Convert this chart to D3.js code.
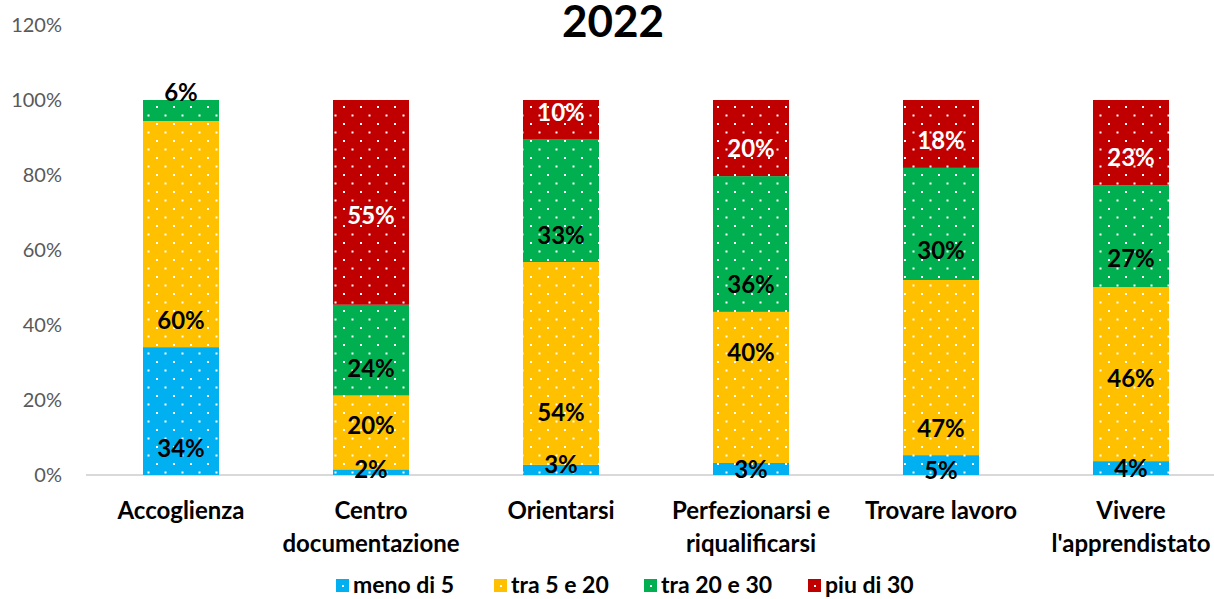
<!DOCTYPE html>
<html>
<head>
<meta charset="utf-8">
<script src="https://cdn.jsdelivr.net/npm/d3@7"></script>
<style>
  body { margin: 0; background: #fff; }
  svg { display: block; font-family: Lato, "Open Sans", sans-serif; }
</style>
</head>
<body>
<div id="grafica"></div>
<script>
// dati del grafico
const categorie = ["Accoglienza", "Centro documentazione", "Orientarsi",
  "Perfezionarsi e riqualificarsi", "Trovare lavoro", "Vivere l'apprendistato"];
const etichetteCategorie = [["Accoglienza"], ["Centro", "documentazione"], ["Orientarsi"],
  ["Perfezionarsi e", "riqualificarsi"], ["Trovare lavoro"], ["Vivere", "l'apprendistato"]];
const serie = ["meno di 5", "tra 5 e 20", "tra 20 e 30", "piu di 30"];
const menoDi5 = [0.341, 0.015, 0.027, 0.032, 0.053, 0.037];
const tra5e20 = [0.603, 0.197, 0.541, 0.403, 0.467, 0.464];
const tra20e30 = [0.056, 0.242, 0.328, 0.362, 0.299, 0.272];
const piuDi30 = [0.0, 0.546, 0.104, 0.203, 0.181, 0.227];
// altezza (in valore) a cui Excel ha posto ogni etichetta, per serie
const posEtichette = [
  [0.072, 0.016, 0.029, 0.016, 0.013, 0.019],
  [0.413, 0.133, 0.168, 0.328, 0.125, 0.259],
  [1.021, 0.285, 0.640, 0.509, 0.600, 0.579],
  [null, 0.693, 0.968, 0.872, 0.893, 0.848]
];
const tickY = [0, 0.2, 0.4, 0.6, 0.8, 1.0, 1.2];
const titolo = "2022";

// parametri grafica
const W = 1214, H = 599;
const colori = ["#00B0F0", "#FFC000", "#00B050", "#C00000"];
const coloriTesto = ["#000", "#000", "#000", "#fff"];
const valoriSerie = [menoDi5, tra5e20, tra20e30, piuDi30];

const svg = d3.select("#grafica").append("svg")
  .attr("width", W)
  .attr("height", H);

// pattern a puntini per ogni colore
const defs = svg.append("defs");
colori.forEach((c, i) => {
  const p = defs.append("pattern")
    .attr("id", "pat" + i)
    .attr("patternUnits", "userSpaceOnUse")
    .attr("x", 3).attr("y", 4)
    .attr("width", 17).attr("height", 17);
  p.append("rect").attr("width", 17).attr("height", 17).attr("fill", c);
  p.append("rect").attr("x", 0).attr("y", 0).attr("width", 2).attr("height", 2).attr("fill", "#fff");
  p.append("rect").attr("x", 8.5).attr("y", 8.5).attr("width", 2).attr("height", 2).attr("fill", "#fff");
});

const xScale = d3.scaleBand()
  .domain(categorie)
  .range([86, 1226])
  .paddingInner(0.6)
  .paddingOuter(0.3);

const yScale = d3.scaleLinear()
  .domain([0, 1.2])
  .range([475, 25]);

// stack dei dati
const righe = categorie.map((c, i) => {
  const r = { cat: c };
  serie.forEach((s, j) => r[s] = valoriSerie[j][i]);
  return r;
});
const stack = d3.stack().keys(serie)(righe);

// asse Y (solo etichette)
const yAxis = d3.axisLeft(yScale).tickValues(tickY).tickFormat(d3.format(".0%")).tickSize(0).tickPadding(0);
const gy = svg.append("g")
  .attr("transform", "translate(62,0)")
  .call(yAxis);
gy.select(".domain").remove();
gy.selectAll("text")
  .attr("fill", "#595959")
  .style("font-size", "20px")
  .style("font-family", "Lato, sans-serif");

// linea base
svg.append("line")
  .attr("x1", 86).attr("x2", W)
  .attr("y1", yScale(0)).attr("y2", yScale(0))
  .attr("stroke", "#D9D9D9")
  .attr("stroke-width", 2);

// barre
const gruppi = svg.append("g").selectAll("g")
  .data(stack).enter()
  .append("g")
  .attr("fill", (d, i) => "url(#pat" + i + ")");

gruppi.selectAll("rect")
  .data(d => d).enter()
  .append("rect")
  .attr("x", d => xScale(d.data.cat))
  .attr("y", d => yScale(d[1]))
  .attr("width", xScale.bandwidth())
  .attr("height", d => yScale(d[0]) - yScale(d[1]));

// etichette dei valori
const fmt = d3.format(".0%");
stack.forEach((s, i) => {
  svg.append("g").selectAll("text")
    .data(s.map((d, j) => ({ d: d, pos: posEtichette[i][j] })).filter(o => o.pos !== null)).enter()
    .append("text")
    .attr("x", o => xScale(o.d.data.cat) + xScale.bandwidth() / 2)
    .attr("y", o => yScale(o.pos))
    .attr("dy", "0.36em")
    .attr("text-anchor", "middle")
    .attr("fill", coloriTesto[i])
    .style("font-size", "24px")
    .style("font-weight", "bold")
    .text(o => fmt(o.d[1] - o.d[0]));
});

// etichette asse X
const gx = svg.append("g");
categorie.forEach((c, i) => {
  const t = gx.append("text")
    .attr("text-anchor", "middle")
    .attr("x", xScale(c) + xScale.bandwidth() / 2)
    .attr("y", 519)
    .style("font-size", "24px")
    .style("font-weight", "bold")
    .attr("fill", "#000");
  etichetteCategorie[i].forEach((l, k) => {
    t.append("tspan")
      .attr("x", xScale(c) + xScale.bandwidth() / 2)
      .attr("dy", k === 0 ? 0 : 33)
      .text(l);
  });
});

// titolo
svg.append("text")
  .attr("x", 613)
  .attr("y", 37)
  .attr("text-anchor", "middle")
  .style("font-size", "44px")
  .style("font-weight", "bold")
  .text(titolo);

// legenda
const legX = [336, 494, 644, 808];
const leg = svg.append("g").selectAll("g")
  .data(serie).enter()
  .append("g")
  .attr("transform", (d, i) => `translate(${legX[i]}, 579)`);
leg.append("rect")
  .attr("width", 13).attr("height", 13)
  .attr("fill", (d, i) => colori[i]);
leg.append("rect")
  .attr("x", 6).attr("y", 6).attr("width", 2).attr("height", 2)
  .attr("fill", "#fff");
leg.append("text")
  .attr("x", 17)
  .attr("y", 14)
  .style("font-size", "23px")
  .style("font-weight", "bold")
  .text(d => d);
</script>
</body>
</html>
